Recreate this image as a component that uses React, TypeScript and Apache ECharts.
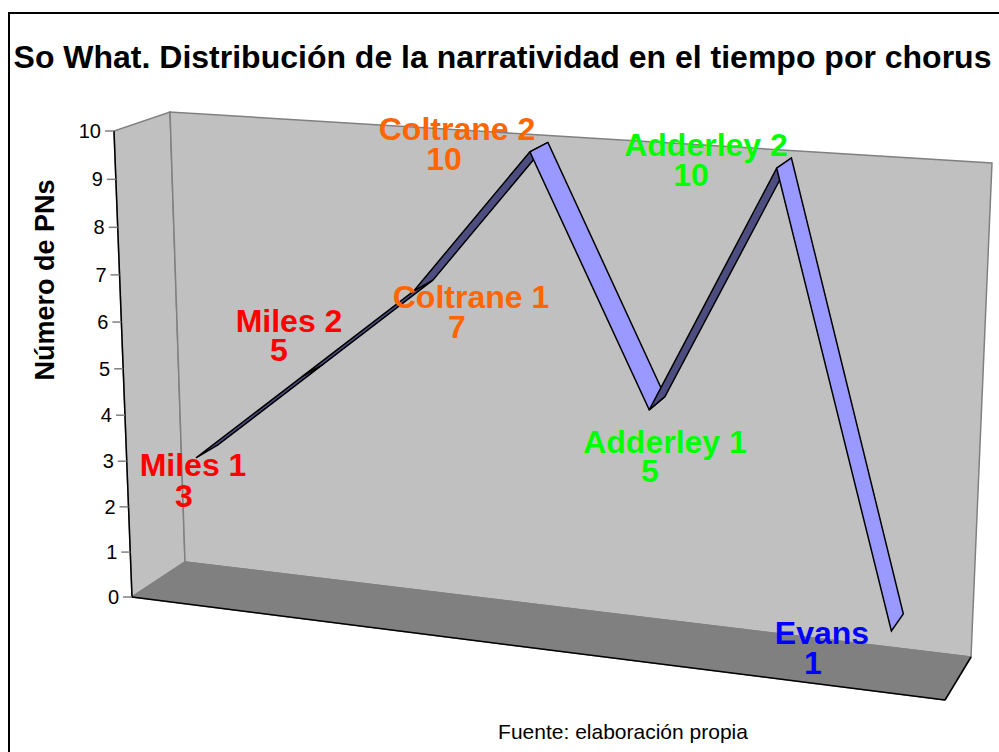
import React, { useEffect, useRef } from "react";
import * as echarts from "echarts";

const titleText = "So What. Distribución de la narratividad en el tiempo por chorus";
const yAxisTitle = "Número de PNs";
const sourceText = "Fuente: elaboración propia";
const categories = ["Miles 1", "Miles 2", "Coltrane 1", "Coltrane 2", "Adderley 1", "Adderley 2", "Evans"];
const values = [3, 5, 7, 10, 5, 10, 1];
const labelColors = ["#ff0000", "#ff0000", "#ff6600", "#ff6600", "#00ff00", "#00ff00", "#0000ff"];
const yTicks = [0, 1, 2, 3, 4, 5, 6, 7, 8, 9, 10];

// label layout: [name cx, name cy, value cx, value cy]
const labelLayout = [
  [193, 465, 184, 496],
  [289, 321, 279, 350],
  [471, 297, 457, 327],
  [457, 129, 444, 159],
  [665, 442, 650, 471],
  [706, 145, 691, 175],
  [822, 633, 813, 663],
];

const W = 999;
const H = 752;
type P = [number, number];
// corners: bottom-left, bottom-right, top-right, top-left
const frontQuad: P[] = [[132, 597], [945, 700], [963, 189], [114, 131]];
const backQuad: P[] = [[185, 562], [971, 657], [992, 163], [170, 112]];
const RIBBON_NEAR = 0.3;
const RIBBON_FAR = 0.72;

function homography(q: P[]) {
  const [[x0, y0], [x1, y1], [x2, y2], [x3, y3]] = q;
  const dx1 = x1 - x2, dx2 = x3 - x2, sx = x0 - x1 + x2 - x3;
  const dy1 = y1 - y2, dy2 = y3 - y2, sy = y0 - y1 + y2 - y3;
  const den = dx1 * dy2 - dx2 * dy1;
  const g = (sx * dy2 - dx2 * sy) / den;
  const h = (dx1 * sy - sx * dy1) / den;
  const a = x1 - x0 + g * x1, b = x3 - x0 + h * x3;
  const d = y1 - y0 + g * y1, e = y3 - y0 + h * y3;
  return (u: number, v: number): P => {
    const w = g * u + h * v + 1;
    return [(a * u + b * v + x0) / w, (d * u + e * v + y0) / w];
  };
}
const hFront = homography(frontQuad);
const hBack = homography(backQuad);
function project(u: number, v: number, depth: number): P {
  const f = hFront(u, v);
  const b = hBack(u, v);
  return [f[0] + (b[0] - f[0]) * depth, f[1] + (b[1] - f[1]) * depth];
}
// grid pixel (through the chart's own axes) -> projected 3D position
function place(api: any, idx: number, val: number, depth: number): P {
  const c = api.coord([idx, val]);
  return project(c[0] / W, 1 - c[1] / H, depth);
}

const segments = values.slice(0, -1).map((v, i) => [i, v, i + 1, values[i + 1]]);

const FONT = "Liberation Sans";

function buildOption() {
  const wallStroke = "#808080";
  return {
    animation: false,
    backgroundColor: "#ffffff",
    grid: { left: 0, top: 0, width: W, height: H, containLabel: false },
    xAxis: { type: "category", data: categories, show: false },
    yAxis: { type: "value", min: 0, max: 10, interval: 1, show: false },
    graphic: [
      { type: "polyline", silent: true, shape: { points: [[9, 752], [9, 13], [999, 13]] }, style: { stroke: "#000", lineWidth: 2, fill: "none" } },
      { type: "text", silent: true, style: { text: titleText, x: 502.5, y: 57, align: "center", verticalAlign: "middle", fill: "#000", font: `bold 32px "${FONT}"` } },
      { type: "text", silent: true, rotation: Math.PI / 2, x: 45, y: 280, style: { text: yAxisTitle, x: 0, y: 0, align: "center", verticalAlign: "middle", fill: "#000", font: `bold 27px "${FONT}"` } },
      { type: "text", silent: true, style: { text: sourceText, x: 623, y: 731, align: "center", verticalAlign: "middle", fill: "#000", font: `21px "${FONT}"` } },
    ],
    series: [
      {
        type: "custom",
        name: "walls",
        silent: true,
        clip: false,
        z: 1,
        data: [[0, 0]],
        encode: { x: 0, y: 1 },
        renderItem: () => {
          const [f0, f1, , f3] = frontQuad;
          const [b0, b1, b2, b3] = backQuad;
          const poly = (points: P[], fill: string, stroke: string, lineWidth = 1.5) => ({
            type: "polygon", shape: { points }, style: { fill, stroke, lineWidth },
          });
          const line = (a: P, b: P, stroke: string) => ({
            type: "line", shape: { x1: a[0], y1: a[1], x2: b[0], y2: b[1] }, style: { stroke, lineWidth: 1.5 },
          });
          return {
            type: "group",
            children: [
              poly([f0, b0, b3, f3], "#c0c0c0", wallStroke),
              poly([b0, b1, b2, b3], "#c0c0c0", wallStroke),
              poly([f0, f1, b1, b0], "#808080", "#808080"),
              line(f0, f1, "#000"),
              line(f1, b1, "#000"),
              line(f0, f3, "#000"),
            ],
          };
        },
      },
      {
        type: "custom",
        name: "ticks",
        silent: true,
        clip: false,
        z: 2,
        data: yTicks.map((t) => [0, t]),
        encode: { x: 0, y: 1 },
        renderItem: (_p: any, api: any) => {
          const t = api.value(1);
          const y = api.coord([0, t])[1];
          const p = project(0, 1 - y / H, 0);
          return {
            type: "group",
            children: [
              { type: "line", shape: { x1: p[0] - 9, y1: p[1], x2: p[0], y2: p[1] }, style: { stroke: "#808080", lineWidth: 1.5 } },
              { type: "text", style: { text: String(t), x: p[0] - 13, y: p[1], align: "right", verticalAlign: "middle", fill: "#000", font: `20px "${FONT}"` } },
            ],
          };
        },
      },
      {
        type: "custom",
        name: "ribbon",
        silent: true,
        clip: false,
        z: 3,
        data: segments,
        encode: { x: 0, y: 1 },
        renderItem: (_p: any, api: any) => {
          const i = api.value(0), a = api.value(1), j = api.value(2), b = api.value(3);
          const points = [
            place(api, i, a, RIBBON_NEAR),
            place(api, i, a, RIBBON_FAR),
            place(api, j, b, RIBBON_FAR),
            place(api, j, b, RIBBON_NEAR),
          ];
          return {
            type: "polygon",
            shape: { points },
            style: { fill: b > a ? "#4d4d80" : "#9999ff", stroke: "#000", lineWidth: 1.5, lineJoin: "miter" },
          };
        },
      },
      {
        type: "custom",
        name: "labels",
        silent: true,
        clip: false,
        z: 4,
        data: values.map((v, i) => [i, v]),
        encode: { x: 0, y: 1 },
        renderItem: (_p: any, api: any) => {
          const i = api.value(0);
          const [nx, ny, vx, vy] = labelLayout[i];
          const font = `bold 32px "${FONT}"`;
          return {
            type: "group",
            children: [
              { type: "text", style: { text: categories[i], x: nx, y: ny, align: "center", verticalAlign: "middle", fill: labelColors[i], font } },
              { type: "text", style: { text: String(api.value(1)), x: vx, y: vy, align: "center", verticalAlign: "middle", fill: labelColors[i], font } },
            ],
          };
        },
      },
    ],
  };
}

export default function App() {
  const ref = useRef<HTMLDivElement>(null);
  useEffect(() => {
    const chart = echarts.init(ref.current!, undefined, { renderer: "svg" });
    chart.setOption(buildOption() as any);
    return () => chart.dispose();
  }, []);
  return <div ref={ref} style={{ position: "fixed", left: 0, top: 0, width: W, height: H }} />;
}
